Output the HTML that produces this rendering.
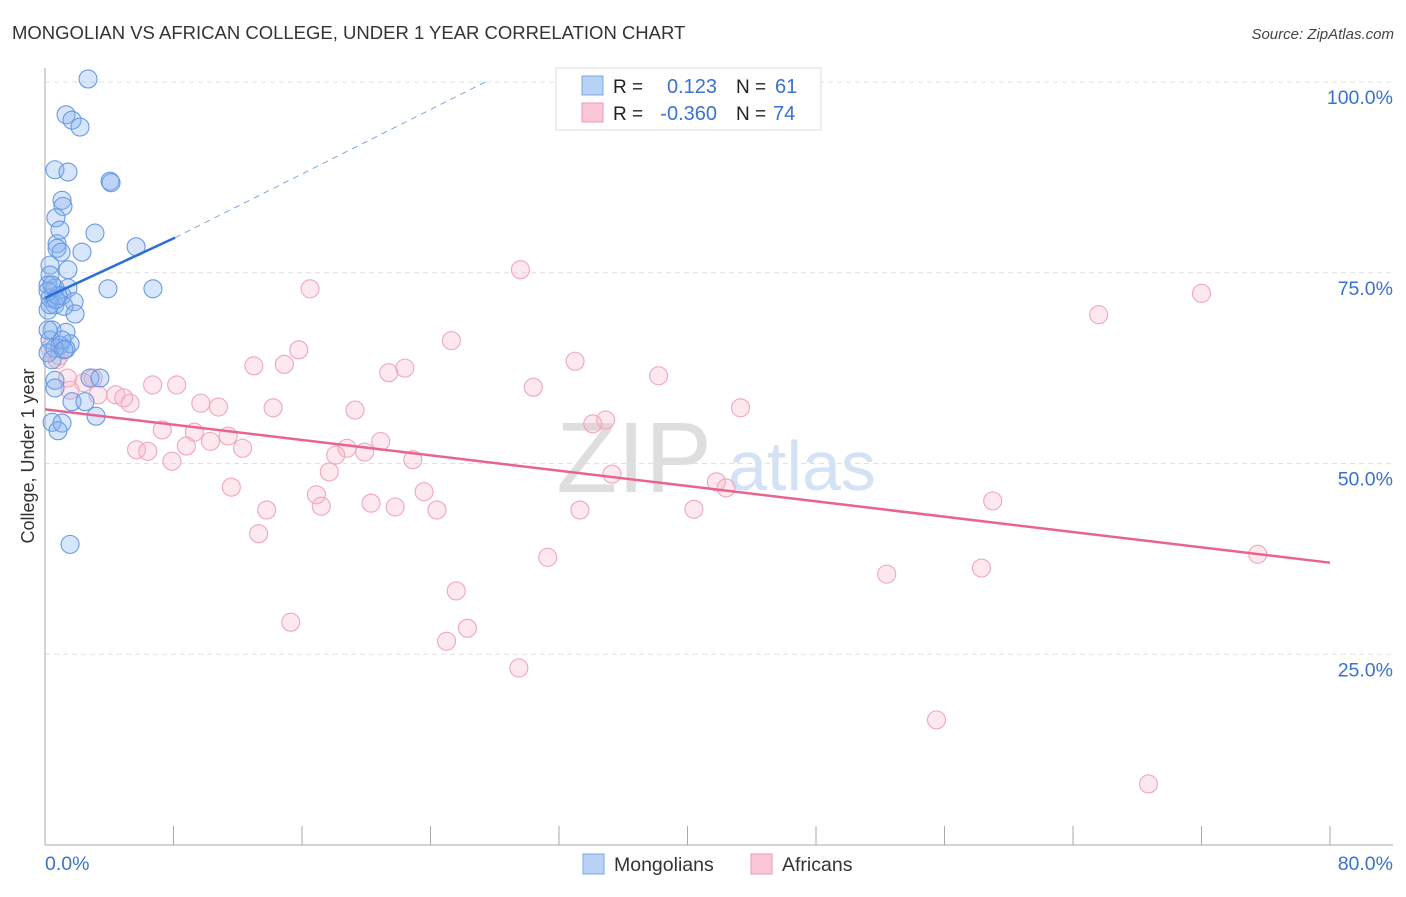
<!DOCTYPE html>
<html><head><meta charset="utf-8"><style>
body{margin:0;background:#fff;font-family:"Liberation Sans",sans-serif;}
svg text{font-family:"Liberation Sans",sans-serif;}
</style></head><body>
<svg id="chart" width="1406" height="892" xmlns="http://www.w3.org/2000/svg">
<text x="12" y="39" font-size="18.5" fill="#333">MONGOLIAN VS AFRICAN COLLEGE, UNDER 1 YEAR CORRELATION CHART</text>
<text x="1394" y="39" font-size="15" fill="#444" font-style="italic" text-anchor="end">Source: ZipAtlas.com</text>
<g>
<text x="634" y="492" font-size="100" fill="#dedede" font-family="Liberation Serif,serif" text-anchor="middle">ZIP</text>
<text x="802" y="490" font-size="70" fill="#d3e2f5" text-anchor="middle">atlas</text>
</g>
<g id="grid"></g>
<g id="axes"></g>
<g id="marks"></g>
<text transform="translate(34,456) rotate(-90)" font-size="18" fill="#333" text-anchor="middle">College, Under 1 year</text>
<g>
<rect x="556" y="68" width="265" height="62" fill="#fff" stroke="#ddd"/>
<rect x="582" y="76" width="21" height="19" fill="#b7d2f5" stroke="#7aa8e8"/>
<rect x="582" y="103" width="21" height="19" fill="#f9c7d6" stroke="#ef9ab4"/>
<text x="613" y="93" font-size="19" fill="#222">R =</text>
<text x="717" y="93" font-size="20" fill="#3a72d0" text-anchor="end">0.123</text>
<text x="736" y="93" font-size="19" fill="#222">N =</text>
<text x="775" y="93" font-size="20" fill="#3a72d0">61</text>
<text x="613" y="120" font-size="19" fill="#222">R =</text>
<text x="717" y="120" font-size="20" fill="#3a72d0" text-anchor="end">-0.360</text>
<text x="736" y="120" font-size="19" fill="#222">N =</text>
<text x="773" y="120" font-size="20" fill="#3a72d0">74</text>
</g>
<g>
<rect x="583" y="854" width="21" height="20" fill="#b7d2f5" stroke="#7aa8e8"/>
<text x="614" y="871" font-size="19.5" fill="#333">Mongolians</text>
<rect x="751" y="854" width="21" height="20" fill="#f9c7d6" stroke="#ef9ab4"/>
<text x="782" y="871" font-size="19.5" fill="#333">Africans</text>
</g>
</svg>
<script>
const xTicks=[0,8,16,24,32,40,48,56,64,72,80];
const yTicks=[25,50,75,100];
const yTickLabels=["25.0%","50.0%","75.0%","100.0%"];
const xEndLabels=["0.0%","80.0%"];
const blueX=[2.68,1.31,1.68,2.18,0.62,1.43,4.05,4.11,1.06,1.12,0.68,3.11,0.93,0.75,0.75,2.30,1.0,5.67,0.31,1.43,0.31,3.92,6.72,0.19,0.62,1.43,1.06,0.31,1.81,0.62,1.18,0.19,1.87,0.44,1.31,0.31,0.93,1.56,1.31,0.62,0.19,2.80,3.42,0.62,0.62,1.68,2.49,3.18,0.44,1.06,0.81,1.56,0.31,0.81,0.19,1.06,0.44,0.19,1.18,0.68,0.44];
const blueY=[100.4,95.7,95.0,94.1,88.5,88.2,87.0,86.8,84.5,83.7,82.2,80.2,80.6,78.8,78.2,77.7,77.7,78.4,76.0,75.4,74.7,72.9,72.9,73.4,73.0,73.0,72.0,71.7,71.2,70.8,70.6,70.1,69.6,67.5,67.2,66.2,65.5,65.7,65.0,65.1,64.5,61.2,61.2,60.9,59.9,58.1,58.1,56.2,55.4,55.3,54.3,39.4,70.8,72.0,72.6,66.2,63.6,67.5,64.9,71.5,73.4];
const pinkX=[29.6,16.5,72.0,65.6,25.3,15.8,13.0,14.9,22.4,21.4,33.0,38.2,30.4,6.7,8.2,3.0,1.4,2.4,3.3,4.4,5.3,4.9,9.7,10.8,14.2,19.3,43.3,34.9,34.1,7.3,9.3,11.4,5.7,6.4,8.8,10.3,12.3,18.8,18.1,19.9,20.9,22.9,7.9,17.7,35.3,41.8,42.4,11.6,16.9,17.2,23.6,20.3,21.8,24.4,13.8,33.3,40.4,59.0,13.3,31.3,75.5,52.4,58.3,25.6,15.3,26.3,25.0,29.5,55.5,68.7,0.75,0.3,0.9,1.56];
const pinkY=[75.4,72.9,72.3,69.5,66.1,64.9,62.8,63.0,62.5,61.9,63.4,61.5,60.0,60.3,60.3,61.2,61.2,60.6,59.0,59.0,57.9,58.6,57.9,57.4,57.3,57.0,57.3,55.7,55.2,54.4,54.1,53.6,51.8,51.6,52.3,52.9,52.0,52.0,51.1,51.5,52.9,50.5,50.3,48.9,48.6,47.6,46.8,46.9,45.9,44.4,46.3,44.8,44.3,43.9,43.9,43.9,44.0,45.1,40.8,37.7,38.1,35.5,36.3,33.3,29.2,28.4,26.7,23.2,16.4,8.0,63.6,65.1,64.1,59.6];
const blueTrend=[71.7,79.6,100.3];
const blueTrendX=[0,8.1,27.7];
const pinkTrend=[57.1,37.0];
const pinkTrendX=[0,80];

const X0=45,X1=1330,Y0=845,Y100=82;
const sx=v=>X0+(X1-X0)*v/80;
const sy=v=>Y0-(Y0-Y100)*v/100;
const NS="http://www.w3.org/2000/svg";
function mk(tag,attrs,parent){const e=document.createElementNS(NS,tag);for(const k in attrs)e.setAttribute(k,attrs[k]);document.getElementById(parent).appendChild(e);return e;}
yTicks.forEach((t,i)=>{
  const g=mk('line',{x1:45,x2:1393,y1:sy(t),y2:sy(t),stroke:'#e0e0e0','stroke-dasharray':'5,4'},'grid');
  
  
  const l=mk('text',{x:1393,y:sy(t)+22,'font-size':19.5,fill:'#3a72d0','text-anchor':'end'},'axes');
  l.textContent=yTickLabels[i];
  
  
});
const ya=mk('line',{x1:45,x2:45,y1:68,y2:845,stroke:'#aaa'},'axes');


const xa=mk('line',{x1:45,x2:1393,y1:845,y2:845,stroke:'#aaa'},'axes');


xTicks.forEach(t=>{
  const k=mk('line',{x1:sx(t),x2:sx(t),y1:826,y2:845,stroke:'#aaa'},'axes');
  
  
});
const xl0=mk('text',{x:45,y:870,'font-size':19.5,fill:'#3a72d0'},'axes');xl0.textContent=xEndLabels[0];


const xl1=mk('text',{x:1393,y:870,'font-size':19.5,fill:'#3a72d0','text-anchor':'end'},'axes');xl1.textContent=xEndLabels[1];


pinkX.forEach((v,i)=>{
  const c=mk('circle',{cx:sx(v),cy:sy(pinkY[i]),r:9,fill:'rgba(248,180,200,0.3)',stroke:'#efa6bd','stroke-width':1.1},'marks');
  
  
});
blueX.forEach((v,i)=>{
  const c=mk('circle',{cx:sx(v),cy:sy(blueY[i]),r:9,fill:'rgba(130,178,240,0.32)',stroke:'#6a9ae2','stroke-width':1.1},'marks');
  
  
});
const bt=mk('line',{x1:sx(blueTrendX[0]),y1:sy(blueTrend[0]),x2:sx(blueTrendX[1]),y2:sy(blueTrend[1]),stroke:'#2a6fd6','stroke-width':2.5},'marks');


const bd=mk('line',{x1:sx(blueTrendX[1]),y1:sy(blueTrend[1]),x2:sx(blueTrendX[2]),y2:sy(blueTrend[2]),stroke:'#7aa8e8','stroke-width':1,'stroke-dasharray':'6,5'},'marks');


const pt=mk('line',{x1:sx(pinkTrendX[0]),y1:sy(pinkTrend[0]),x2:sx(pinkTrendX[1]),y2:sy(pinkTrend[1]),stroke:'#e8648f','stroke-width':2.5},'marks');


</script>
</body></html>
